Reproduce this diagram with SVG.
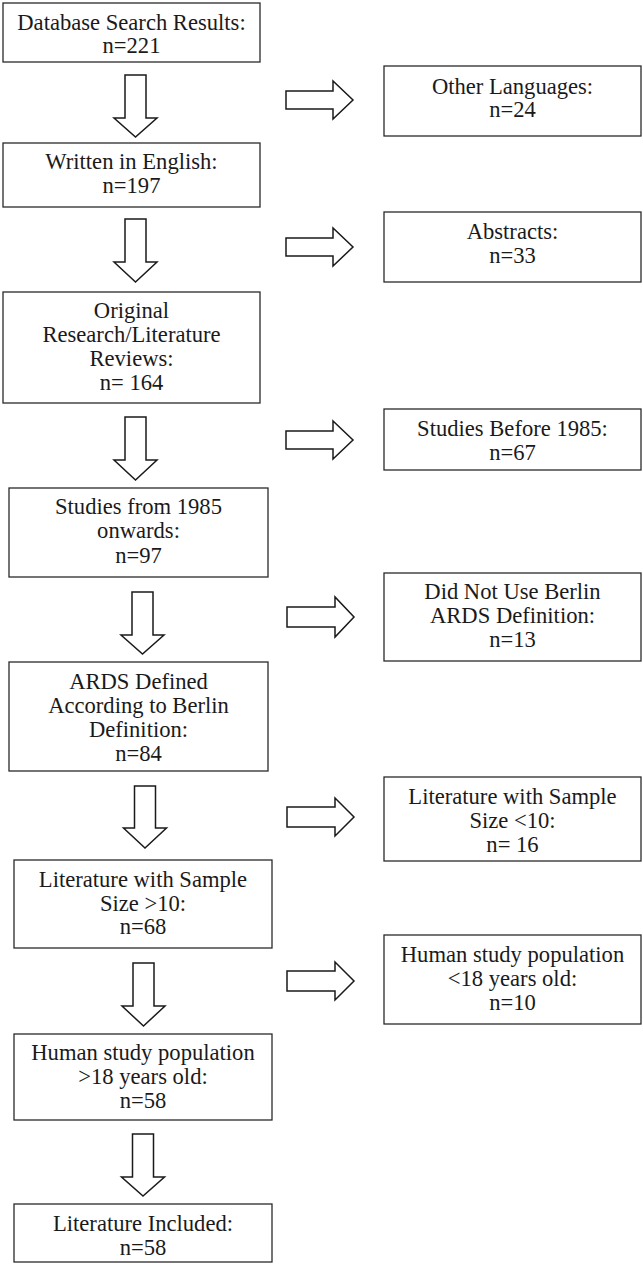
<svg xmlns="http://www.w3.org/2000/svg" width="643" height="1265" viewBox="0 0 643 1265">
<style>
.box{fill:#fff;stroke:#2a2a2a;stroke-width:1.3}
.arr{fill:#fff;stroke:#1a1a1a;stroke-width:1.5;stroke-linejoin:miter}
text{font-family:"Liberation Serif","Times New Roman",serif;font-size:22.6px;fill:#1a1a1a;text-anchor:middle}
</style>
<rect width="643" height="1265" fill="#fff"/>
<g id="connectors">
<path class="arr" d="M125,75 H146 V118 H157 L135.5,137 L114,118 H125 Z"/>
<path class="arr" d="M125,219 H146 V262 H157 L135.5,282 L114,262 H125 Z"/>
<path class="arr" d="M125,417 H146 V460 H157 L135.5,480 L114,460 H125 Z"/>
<path class="arr" d="M132,592 H153 V635 H164 L142.5,654 L121,635 H132 Z"/>
<path class="arr" d="M134.5,786 H155.5 V828 H166.5 L145,848 L123.5,828 H134.5 Z"/>
<path class="arr" d="M133,963 H154 V1006 H165 L143.5,1026 L122,1006 H133 Z"/>
<path class="arr" d="M132.5,1134 H153.5 V1177 H164.5 L143,1196 L121.5,1177 H132.5 Z"/>
<path class="arr" d="M286,91 H333 V81 L353,100 L333,119 V109 H286 Z"/>
<path class="arr" d="M286,238 H333 V228 L353,247 L333,266 V256 H286 Z"/>
<path class="arr" d="M286,431 H333 V421 L353,440 L333,459 V449 H286 Z"/>
<path class="arr" d="M287,607 H335 V597 L354,617 L335,637 V627 H287 Z"/>
<path class="arr" d="M287,807 H335 V798 L354,817 L335,836 V827 H287 Z"/>
<path class="arr" d="M287,971 H335 V962 L354,981 L335,1000 V991 H287 Z"/>
</g>
<g id="n1"><rect class="box" x="3" y="3" width="257" height="59"/><text x="131.5" y="29.5">Database Search Results:</text><text x="131.5" y="53">n=221</text></g>
<g id="n2"><rect class="box" x="384" y="66" width="257" height="70"/><text x="512.5" y="93.5">Other Languages:</text><text x="512.5" y="117">n=24</text></g>
<g id="n3"><rect class="box" x="3" y="143" width="257" height="64"/><text x="131.5" y="169">Written in English:</text><text x="131.5" y="193">n=197</text></g>
<g id="n4"><rect class="box" x="384" y="212" width="257" height="70"/><text x="512.5" y="239">Abstracts:</text><text x="512.5" y="262.5">n=33</text></g>
<g id="n5"><rect class="box" x="3" y="292" width="257" height="111"/><text x="131.5" y="318">Original</text><text x="131.5" y="342">Research/Literature</text><text x="131.5" y="366">Reviews:</text><text x="131.5" y="390">n= 164</text></g>
<g id="n6"><rect class="box" x="384" y="409" width="257" height="61"/><text x="512.5" y="436">Studies Before 1985:</text><text x="512.5" y="460">n=67</text></g>
<g id="n7"><rect class="box" x="9" y="488" width="259" height="89"/><text x="138.5" y="514">Studies from 1985</text><text x="138.5" y="538">onwards:</text><text x="138.5" y="563">n=97</text></g>
<g id="n8"><rect class="box" x="384" y="573" width="257" height="88"/><text x="512.5" y="599">Did Not Use Berlin</text><text x="512.5" y="623">ARDS Definition:</text><text x="512.5" y="646.5">n=13</text></g>
<g id="n9"><rect class="box" x="9" y="662" width="259" height="109"/><text x="138.5" y="689">ARDS Defined</text><text x="138.5" y="713">According to Berlin</text><text x="138.5" y="737">Definition:</text><text x="138.5" y="761">n=84</text></g>
<g id="n10"><rect class="box" x="384" y="777" width="257" height="84"/><text x="512.5" y="804">Literature with Sample</text><text x="512.5" y="828">Size &lt;10:</text><text x="512.5" y="851.5">n= 16</text></g>
<g id="n11"><rect class="box" x="14" y="860" width="258" height="88"/><text x="143" y="887">Literature with Sample</text><text x="143" y="910.5">Size &gt;10:</text><text x="143" y="934">n=68</text></g>
<g id="n12"><rect class="box" x="384" y="935" width="257" height="89"/><text x="512.5" y="962">Human study population</text><text x="512.5" y="986">&lt;18 years old:</text><text x="512.5" y="1009.5">n=10</text></g>
<g id="n13"><rect class="box" x="14" y="1034" width="258" height="86"/><text x="143" y="1060">Human study population</text><text x="143" y="1084">&gt;18 years old:</text><text x="143" y="1107.5">n=58</text></g>
<g id="n14"><rect class="box" x="14" y="1204" width="258" height="58"/><text x="143" y="1231">Literature Included:</text><text x="143" y="1255">n=58</text></g>
</svg>
